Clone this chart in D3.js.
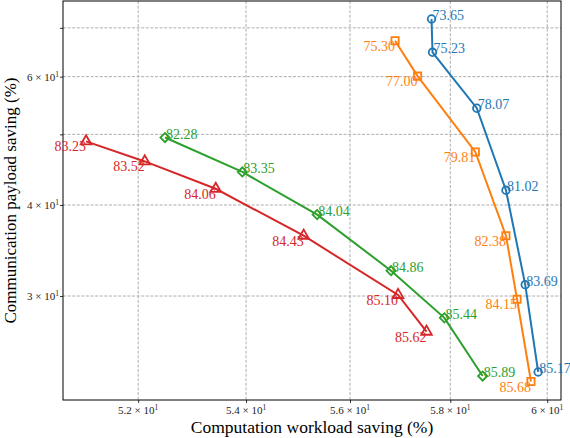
<!DOCTYPE html>
<html>
<head>
<meta charset="utf-8">
<script src="https://cdn.jsdelivr.net/npm/d3@7"></script>
<style>
  body { margin: 0; background: #fff; }
  text { font-family: "Liberation Serif", "DejaVu Serif", serif; }
</style>
</head>
<body>
<svg id="chart" width="570" height="438"></svg>
<script>
// values (log-log axes)
var compBlue = [57.62, 57.64, 58.54, 59.14, 59.54, 59.81];
var commBlue = [72.0, 64.8, 54.3, 41.9, 31.1, 23.6];
var lblBlue = ["73.65", "75.23", "78.07", "81.02", "83.69", "85.17"];

var compOrange = [56.89, 57.34, 58.51, 59.14, 59.37, 59.66];
var commOrange = [67.2, 60.1, 47.3, 36.3, 29.7, 22.9];
var lblOrange = ["75.30", "77.00", "79.81", "82.38", "84.15", "85.68"];

var compGreen = [52.49, 53.93, 55.36, 56.81, 57.88, 58.66];
var commGreen = [49.5, 44.4, 38.8, 32.5, 28.0, 23.3];
var lblGreen = ["82.28", "83.35", "84.04", "84.86", "85.44", "85.89"];

var compRed = [51.06, 52.12, 53.43, 55.10, 56.95, 57.52];
var commRed = [48.9, 45.9, 42.1, 36.3, 30.1, 26.8];
var lblRed = ["83.23", "83.52", "84.06", "84.43", "85.10", "85.62"];

var xTicks = [52, 54, 56, 58, 60];
var xTickLabels = ["5.2", "5.4", "5.6", "5.8", "6"];
var yTicks = [30, 40, 60];
var yTickLabels = ["3", "4", "6"];
var yMinor = [50, 70];

var margin = {top: 1, right: 9, bottom: 38, left: 63};
var W = 570, H = 438;
var w = W - margin.left - margin.right, h = H - margin.top - margin.bottom;

var svg = d3.select("#chart");
var g = svg.append("g").attr("transform", "translate(" + margin.left + "," + margin.top + ")");

var x = d3.scaleLog().domain([50.65, 60.29]).range([0, w]);
var y = d3.scaleLog().domain([21.6, 76.2]).range([h, 0]);

// grid
var gridY = yTicks.concat(yMinor);
g.selectAll(".gx").data(xTicks).enter().append("line")
  .attr("x1", d => x(d)).attr("x2", d => x(d))
  .attr("y1", 0).attr("y2", h)
  .style("stroke", "#999").style("stroke-width", 0.8)
  .style("stroke-dasharray", "3,1.6");
g.selectAll(".gy").data(gridY).enter().append("line")
  .attr("y1", d => y(d)).attr("y2", d => y(d))
  .attr("x1", 0).attr("x2", w)
  .style("stroke", "#999").style("stroke-width", 0.8)
  .style("stroke-dasharray", "3,1.6");

// axes
var xAxis = g.append("g").attr("transform", "translate(0," + h + ")")
  .call(d3.axisBottom(x).tickValues(xTicks).tickSize(3).tickFormat(""));
var yAxis = g.append("g")
  .call(d3.axisLeft(y).tickValues(gridY).tickSize(3).tickFormat(""));
[xAxis, yAxis].forEach(function(a) {
  a.select(".domain").remove();
  a.selectAll("line").style("stroke", "#000").style("stroke-width", 0.8);
});

function sciLabel(sel, mant) {
  sel.append("tspan").text(mant + " \u00d7 10");
  sel.append("tspan").attr("dy", -4).style("font-size", "7.5px").text("1");
}

xTicks.forEach(function(d, i) {
  var t = g.append("text")
    .attr("x", x(d)).attr("y", h + 14)
    .attr("text-anchor", "middle")
    .style("font-size", "11px").style("fill", "#222");
  sciLabel(t, xTickLabels[i]);
});
yTicks.forEach(function(d, i) {
  var t = g.append("text")
    .attr("x", -4).attr("y", y(d) + 4)
    .attr("text-anchor", "end")
    .style("font-size", "11px").style("fill", "#222");
  sciLabel(t, yTickLabels[i]);
});

// frame
g.append("rect").attr("width", w).attr("height", h)
  .style("fill", "none").style("stroke", "#000").style("stroke-width", 1);

// series
var series = [
  {xs: compBlue, ys: commBlue, lbl: lblBlue, color: "#1f77b4", sym: d3.symbolCircle, size: 45, rot: 0, side: "right"},
  {xs: compOrange, ys: commOrange, lbl: lblOrange, color: "#ff7f0e", sym: d3.symbolSquare, size: 52, rot: 0, side: "left"},
  {xs: compGreen, ys: commGreen, lbl: lblGreen, color: "#2ca02c", sym: d3.symbolSquare, size: 42, rot: 45, side: "right"},
  {xs: compRed, ys: commRed, lbl: lblRed, color: "#d62728", sym: d3.symbolTriangle, size: 48, rot: 0, side: "left"}
];

var line = d3.line().x(d => x(d[0])).y(d => y(d[1]));

series.forEach(function(s) {
  var pts = s.xs.map(function(v, i) { return [v, s.ys[i], s.lbl[i]]; });
  g.append("path").datum(pts).attr("d", line)
    .style("fill", "none").style("stroke", s.color).style("stroke-width", 2);
  g.selectAll(null).data(pts).enter().append("path")
    .attr("d", d3.symbol().type(s.sym).size(s.size))
    .attr("transform", d => "translate(" + x(d[0]) + "," + y(d[1]) + ") rotate(" + s.rot + ")")
    .style("fill", "none").style("stroke", s.color).style("stroke-width", 1.8);
  g.selectAll(null).data(pts).enter().append("text")
    .attr("x", d => x(d[0]) + (s.side == "right" ? 1 : 0))
    .attr("y", d => y(d[1]) + (s.side == "right" ? 1 : 10))
    .attr("text-anchor", s.side == "right" ? "start" : "end")
    .style("font-size", "14px").style("fill", s.color)
    .text(d => d[2]);
});

// axis titles
svg.append("text")
  .attr("x", margin.left + w / 2).attr("y", H - 5)
  .attr("text-anchor", "middle").style("font-size", "17.5px")
  .text("Computation workload saving (%)");
svg.append("text")
  .attr("transform", "translate(16," + (margin.top + h / 2) + ") rotate(-90)")
  .attr("text-anchor", "middle").style("font-size", "17px")
  .text("Communication payload saving (%)");
</script>
</body>
</html>
